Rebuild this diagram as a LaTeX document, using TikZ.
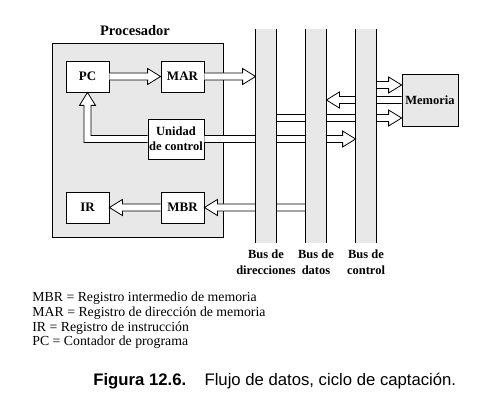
\documentclass[tikz,border=0pt]{standalone}
\usepackage{fontspec}
\setmainfont{Liberation Serif}
\newfontfamily\captionsans{Liberation Sans}
\usetikzlibrary{calc}

\definecolor{panelgray}{gray}{0.91}

% hollow arrow along a horizontal line: y from #1, tip at the x of #2
\newcommand{\widearrow}[2]{%
  \draw[wide] let \p1 = (#1), \p2 = (#2), \n1 = {(\x2>\x1)*2-1} in
    (\x1,{\y1+3.5}) -- ({\x2-13*(\n1)},{\y1+3.5}) -- ({\x2-13*(\n1)},{\y1+8})
    -- (\x2,\y1) -- ({\x2-13*(\n1)},{\y1-8}) -- ({\x2-13*(\n1)},{\y1-3.5})
    -- (\x1,{\y1-3.5});}

\begin{document}
\begin{tikzpicture}[
  x = 1pt, y = -1pt,
  line width = 0.8pt,
  every node/.style = {inner sep=1pt},
  reg/.style = {draw, fill=white, minimum width=43pt, minimum height=31pt,
                font=\bfseries\fontsize{13pt}{15pt}\selectfont},
  bus/.style = {minimum width=20pt, minimum height=214pt},
  buslabel/.style = {anchor=north, align=center,
                     font=\bfseries\fontsize{12.5pt}{16pt}\selectfont},
  wide/.style = {draw, fill=white, line join=miter},
]
\useasboundingbox (0,0) rectangle (492,411);

% processor
\node[draw, fill=panelgray, minimum width=171pt, minimum height=194pt] (cpu) at (137.5,140) {};
\node[font=\bfseries\fontsize{14.5pt}{16pt}\selectfont] (cpuname) at (135,31) {Procesador};

\node[reg] (pc)  at (87.5,76.5)  {PC};
\node[reg] (mar) at (182.5,76.5) {MAR};
\node[reg, minimum width=56pt, minimum height=40pt, align=center,
      font=\bfseries\fontsize{12.5pt}{15pt}\selectfont] (uc) at (176,139) {Unidad\\de control};
\node[reg] (ir)  at (87.5,207.5)  {IR};
\node[reg] (mbr) at (182.5,207.5) {MBR};

% buses: placed now, painted after the arrows so that they hide the shafts
\foreach \name/\x in {dir/266, dat/316, ctl/366}
  \path (\x,136) node[bus] (\name) {};

\node[draw, fill=panelgray, minimum width=56pt, minimum height=52pt,
      font=\bfseries\fontsize{12.5pt}{15pt}\selectfont] (mem) at (430,100) {Memoria};
\coordinate (memtop) at ($(mem.west)+(0,-15)$);
\coordinate (membot) at ($(mem.west)+(0,18)$);

\widearrow{pc.east}{mar.west}
\widearrow{mar.east}{dir.west}
\widearrow{uc.east}{ctl.west}
\widearrow{dat.west |- mbr.east}{mbr.east}
\widearrow{mbr.west}{ir.east}
\widearrow{ctl.east |- memtop}{memtop}
\widearrow{mem.west}{dat.east}
\widearrow{dir.east |- membot}{membot}

% control unit back to PC, bent upwards
\draw[wide] let \p1 = (uc.west), \p2 = (pc.south) in
  (\x1,{\y1+3.5}) -- ({\x2+3.5},{\y1+3.5}) -- ({\x2+3.5},{\y2-13}) -- ({\x2+8},{\y2-13})
  -- (\x2,\y2) -- ({\x2-8},{\y2-13}) -- ({\x2-3.5},{\y2-13}) -- ({\x2-3.5},{\y1-3.5})
  -- (\x1,{\y1-3.5});

\foreach \name in {dir, dat, ctl} {
  \fill[panelgray] (\name.north west) rectangle (\name.south east);
  \draw (\name.north west) -- (\name.south west) (\name.north east) -- (\name.south east);
}

\node[buslabel] (dirname) at ($(dir.south)+(0,5)$) {Bus de\\direcciones};
\node[buslabel] (datname) at ($(dat.south)+(0,5)$) {Bus de\\datos};
\node[buslabel] (ctlname) at ($(ctl.south)+(0,5)$) {Bus de\\control};

\node[anchor=north west, align=left, font=\fontsize{13.8pt}{14.6pt}\selectfont] (legend) at (31,291)
  {MBR = Registro intermedio de memoria\\
   MAR = Registro de dirección de memoria\\
   IR = Registro de instrucción\\
   PC = Contador de programa};

\node[anchor=west, font=\captionsans\fontsize{16.7pt}{18pt}\selectfont] (caption) at (92,381)
  {\textbf{Figura 12.6.}\hspace{1.1em}Flujo de datos, ciclo de captación.};
\end{tikzpicture}
\end{document}
